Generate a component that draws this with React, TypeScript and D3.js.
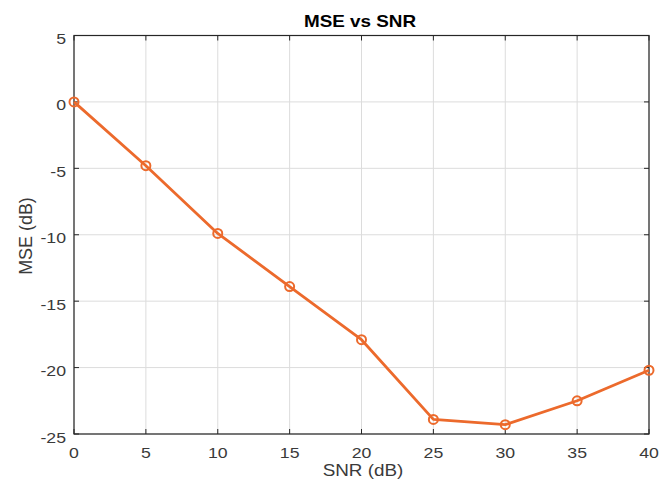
import React from "react";
import * as d3 from "d3";

const snr = [0, 5, 10, 15, 20, 25, 30, 35, 40];
const mse = [0, -4.8, -9.9, -13.9, -17.9, -23.9, -24.3, -22.5, -20.2];
const xTicks = [0, 5, 10, 15, 20, 25, 30, 35, 40];
const yTicks = [5, 0, -5, -10, -15, -20, -25];

const W = 660, H = 484;
const L = 74, R = 649, T = 35.5, B = 434;
const color = "#EC6A2C";
const font = "Liberation Sans, Arial, sans-serif";
const SX = 1.18;

function SText({ x, y, anchor, size, weight, fill, children }: any) {
  return (
    <g transform={`translate(${x},${y}) scale(${SX},1)`}>
      <text x={0} y={0} textAnchor={anchor} fontSize={size} fontWeight={weight || "normal"} fill={fill}>{children}</text>
    </g>
  );
}

export default function App() {
  const x = d3.scaleLinear().domain([0, 40]).range([L, R]);
  const y = d3.scaleLinear().domain([-25, 5]).range([B, T]);
  const line = d3.line<number>().x((_, i) => x(snr[i])).y((d) => y(d));
  return (
    <svg width={W} height={H} style={{ position: "absolute", left: 0, top: 0, background: "#fff" }} fontFamily={font}>
      <rect x={0} y={0} width={W} height={H} fill="#fff" />
      {xTicks.map((t) => (
        <line key={"gx" + t} x1={x(t)} x2={x(t)} y1={T} y2={B} stroke="#dcdcdc" strokeWidth={1} />
      ))}
      {yTicks.map((t) => (
        <line key={"gy" + t} x1={L} x2={R} y1={y(t)} y2={y(t)} stroke="#dcdcdc" strokeWidth={1} />
      ))}
      {xTicks.map((t) => (
        <g key={"tx" + t}>
          <line x1={x(t)} x2={x(t)} y1={B} y2={B - 5} stroke="#262626" />
          <line x1={x(t)} x2={x(t)} y1={T} y2={T + 5} stroke="#262626" />
          <SText x={x(t)} y={458} anchor="middle" size={15} fill="#3a3a3a">{t}</SText>
        </g>
      ))}
      {yTicks.map((t) => (
        <g key={"ty" + t}>
          <line x1={L} x2={L + 5} y1={y(t)} y2={y(t)} stroke="#262626" />
          <line x1={R} x2={R - 5} y1={y(t)} y2={y(t)} stroke="#262626" />
          <SText x={66} y={y(t) + 8.5} anchor="end" size={15} fill="#3a3a3a">{t}</SText>
        </g>
      ))}
      <rect x={L} y={T} width={R - L} height={B - T} fill="none" stroke="#262626" strokeWidth={1.2} />
      <path d={line(mse) || ""} fill="none" stroke={color} strokeWidth={2.8} strokeLinejoin="round" />
      {mse.map((v, i) => (
        <circle key={i} cx={x(snr[i])} cy={y(v)} r={4.5} fill="none" stroke={color} strokeWidth={2} />
      ))}
      <SText x={360} y={26.5} anchor="middle" size={16} weight="bold" fill="#000">MSE vs SNR</SText>
      <SText x={363} y={476} anchor="middle" size={16} fill="#3a3a3a">SNR (dB)</SText>
      <g transform={`translate(32,236) rotate(-90) scale(1.12,${SX})`}>
        <text x={0} y={0} textAnchor="middle" fontSize={16} fill="#3a3a3a">MSE (dB)</text>
      </g>
    </svg>
  );
}
